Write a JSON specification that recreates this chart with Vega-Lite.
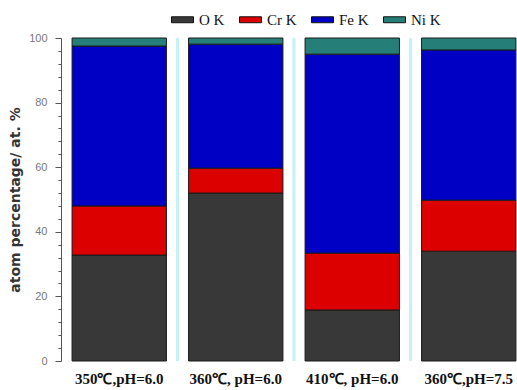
{
  "$schema": "https://vega.github.io/schema/vega-lite/v6.json",
  "width": 466,
  "height": 323,
  "autosize": {"type": "none"},
  "padding": {"left": 61, "top": 38, "right": 0, "bottom": 29},
  "background": "white",
  "config": {"view": {"stroke": null}},
  "resolve": {"axis": {"x": "independent"}},
  "datasets": {
    "bars": [
      {"cond": "350℃,pH=6.0", "element": "O K", "k": 1, "value": 32.8},
      {"cond": "350℃,pH=6.0", "element": "Cr K", "k": 2, "value": 15.2},
      {"cond": "350℃,pH=6.0", "element": "Fe K", "k": 3, "value": 49.5},
      {"cond": "350℃,pH=6.0", "element": "Ni K", "k": 4, "value": 2.5},
      {"cond": "360℃, pH=6.0", "element": "O K", "k": 1, "value": 52.0},
      {"cond": "360℃, pH=6.0", "element": "Cr K", "k": 2, "value": 7.7},
      {"cond": "360℃, pH=6.0", "element": "Fe K", "k": 3, "value": 38.4},
      {"cond": "360℃, pH=6.0", "element": "Ni K", "k": 4, "value": 1.9},
      {"cond": "410℃, pH=6.0", "element": "O K", "k": 1, "value": 15.8},
      {"cond": "410℃, pH=6.0", "element": "Cr K", "k": 2, "value": 17.6},
      {"cond": "410℃, pH=6.0", "element": "Fe K", "k": 3, "value": 61.6},
      {"cond": "410℃, pH=6.0", "element": "Ni K", "k": 4, "value": 5.0},
      {"cond": "360℃,pH=7.5", "element": "O K", "k": 1, "value": 34.0},
      {"cond": "360℃,pH=7.5", "element": "Cr K", "k": 2, "value": 15.8},
      {"cond": "360℃,pH=7.5", "element": "Fe K", "k": 3, "value": 46.5},
      {"cond": "360℃,pH=7.5", "element": "Ni K", "k": 4, "value": 3.7}
    ],
    "seps": [
      {"cond": "360℃, pH=6.0"},
      {"cond": "410℃, pH=6.0"},
      {"cond": "360℃,pH=7.5"}
    ]
  },
  "layer": [
    {
      "data": {"name": "bars"},
      "mark": {"type": "bar", "width": {"band": 0.81}, "stroke": "#1a1a1a", "strokeWidth": 1},
      "encoding": {
        "x": {
          "field": "cond", "type": "nominal",
          "sort": ["350℃,pH=6.0", "360℃, pH=6.0", "410℃, pH=6.0", "360℃,pH=7.5"],
          "scale": {"paddingInner": 0, "paddingOuter": 0},
          "axis": {
            "title": null, "domain": false, "ticks": false, "labelAngle": 0,
            "labelAlign": "center",
            "labelFont": "Liberation Serif", "labelFontWeight": "bold", "labelFontSize": 15,
            "labelColor": "#111", "labelPadding": 10
          }
        },
        "y": {
          "field": "value", "type": "quantitative", "stack": "zero",
          "scale": {"domain": [0, 100], "nice": false},
          "axis": {
            "title": "atom percentage/ at. %",
            "titleFont": "DejaVu Sans", "titleFontWeight": "bold", "titleFontSize": 14,
            "titleColor": "#333", "titlePadding": 6,
            "values": [0,4,8,12,16,20,24,28,32,36,40,44,48,52,56,60,64,68,72,76,80,84,88,92,96,100],
            "labelExpr": "datum.value % 20 === 0 ? datum.label : ''",
            "labelFont": "Liberation Sans", "labelFontSize": 11, "labelColor": "#777",
            "labelPadding": 8,
            "tickSize": {"condition": {"test": "datum.value % 20 === 0", "value": 6}, "value": 3},
            "tickColor": "#555", "domainColor": "#555", "grid": false
          }
        },
        "color": {
          "field": "element", "type": "nominal",
          "scale": {
            "domain": ["O K", "Cr K", "Fe K", "Ni K"],
            "range": ["#383838", "#dd0000", "#0000c4", "#257f78"]
          },
          "legend": {
            "title": null, "orient": "none", "direction": "horizontal",
            "legendX": 110, "legendY": -30,
            "symbolType": "M-1,-0.27H1V0.27H-1Z", "symbolSize": 484,
            "symbolStrokeColor": "#111", "symbolStrokeWidth": 1, "symbolOpacity": 1,
            "labelFont": "Liberation Serif", "labelFontSize": 15, "labelColor": "#111",
            "columnPadding": 12, "labelOffset": 5
          }
        },
        "order": {"field": "k", "type": "quantitative"}
      }
    },
    {
      "data": {"name": "seps"},
      "mark": {"type": "rule", "color": "#c4f2f6", "strokeWidth": 3},
      "encoding": {
        "x": {
          "field": "cond", "type": "nominal", "bandPosition": 0,
          "sort": ["350℃,pH=6.0", "360℃, pH=6.0", "410℃, pH=6.0", "360℃,pH=7.5"],
          "axis": null
        }
      }
    }
  ]
}
